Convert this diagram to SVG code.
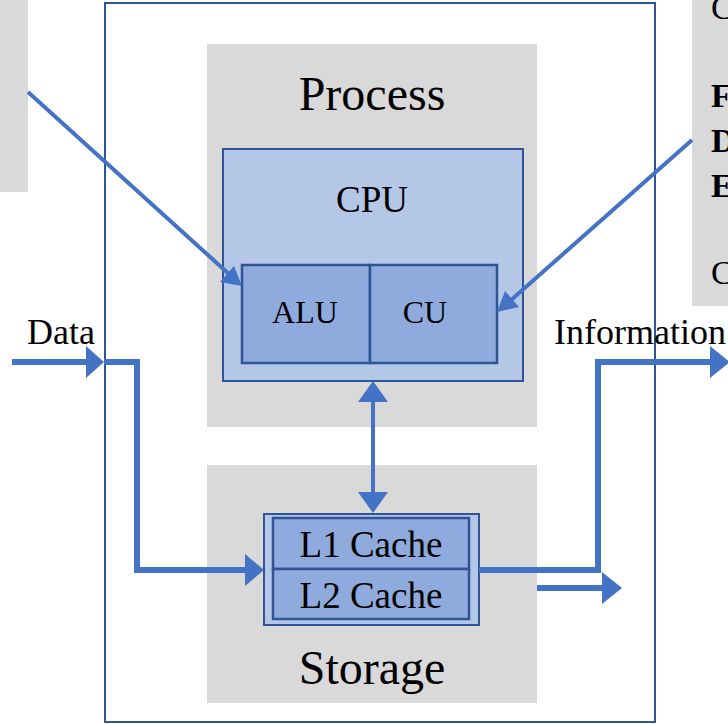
<svg xmlns="http://www.w3.org/2000/svg" width="728" height="724" viewBox="0 0 728 724">
  <defs>
    <style>
      .panel { fill: #D9D9D9; }
      .frame { fill: none; stroke: #2F5597; stroke-width: 2; }
      .box-light { fill: #B4C7E7; stroke: #2F5597; stroke-width: 2; }
      .box-mid { fill: #8FAADC; stroke: #2F5597; stroke-width: 2.5; }
      .label { font-family: "Liberation Serif", "Times New Roman", serif; fill: #000; }
      .wire { fill: none; stroke: #4472C4; stroke-width: 6; }
      .thin { fill: none; stroke: #4472C4; stroke-width: 4; }
      .head { fill: #4472C4; }
    </style>
  </defs>

  <rect width="728" height="724" fill="#FFFFFF"/>

  <!-- side note panels -->
  <g id="note-left">
    <rect class="panel" x="0" y="0" width="28" height="192"/>
  </g>
  <g id="note-right">
    <rect class="panel" x="692" y="0" width="36" height="306"/>
    <text class="label" x="711" y="19" font-size="34">C</text>
    <text class="label" x="711" y="107" font-size="34" font-weight="bold">F</text>
    <text class="label" x="711" y="152" font-size="34" font-weight="bold">D</text>
    <text class="label" x="711" y="197" font-size="34" font-weight="bold">E</text>
    <text class="label" x="711" y="284" font-size="34">C</text>
  </g>

  <!-- computer frame -->
  <g id="computer">
    <rect class="frame" x="105" y="3" width="550" height="719"/>
  </g>

  <g id="process">
    <rect class="panel" x="207" y="44" width="330" height="383"/>
    <text class="label" x="372" y="110" font-size="48" text-anchor="middle">Process</text>
  </g>

  <g id="cpu">
    <rect class="box-light" x="223" y="149" width="300" height="232"/>
    <text class="label" x="372" y="212" font-size="37" text-anchor="middle">CPU</text>
  </g>

  <g id="alu">
    <rect class="box-mid" x="242" y="265" width="128" height="98"/>
    <text class="label" x="305" y="323" font-size="32" text-anchor="middle">ALU</text>
  </g>

  <g id="cu">
    <rect class="box-mid" x="370" y="265" width="127" height="98"/>
    <text class="label" x="425" y="323" font-size="32" text-anchor="middle">CU</text>
  </g>

  <g id="storage">
    <rect class="panel" x="207" y="465" width="330" height="238"/>
    <text class="label" x="372" y="684" font-size="48" text-anchor="middle">Storage</text>
  </g>

  <g id="cache">
    <rect class="box-light" x="264" y="514" width="215" height="111"/>
    <rect class="box-mid" x="273" y="518" width="196" height="51"/>
    <text class="label" x="371" y="557" font-size="37" text-anchor="middle">L1 Cache</text>
    <rect class="box-mid" x="273" y="569" width="196" height="50"/>
    <text class="label" x="371" y="608" font-size="37" text-anchor="middle">L2 Cache</text>
  </g>

  <g id="data-label">
    <text class="label" x="27" y="344" font-size="36">Data</text>
  </g>
  <g id="information-label">
    <text class="label" x="554" y="344" font-size="36">Information</text>
  </g>

  <!-- connectors -->
  <g id="connectors">
    <!-- Data input -->
    <line class="wire" x1="12" y1="362" x2="90" y2="362"/>
    <polygon class="head" points="86,346 104,362 86,378"/>
    <polyline class="wire" points="104,362 137,362 137,570 248,570"/>
    <polygon class="head" points="245,554 264,570 245,586"/>

    <!-- CPU to cache, both ways -->
    <line class="thin" x1="373" y1="398" x2="373" y2="496"/>
    <polygon class="head" points="373,381 388,402 358,402"/>
    <polygon class="head" points="373,513 388,492 358,492"/>

    <!-- Information output -->
    <polyline class="wire" points="479,570 598,570 598,362 712,362"/>
    <polygon class="head" points="710,346 730,362 710,378"/>

    <!-- second output stroke -->
    <line class="wire" x1="537" y1="588" x2="606" y2="588"/>
    <polygon class="head" points="602,572 622,588 602,604"/>

    <!-- note pointers -->
    <line class="thin" x1="28" y1="92" x2="230" y2="275"/>
    <polygon class="head" points="242,286 220,282 234,266"/>
    <line class="thin" x1="692" y1="140" x2="510" y2="301"/>
    <polygon class="head" points="497,312 505,291 519,307"/>
  </g>
</svg>
